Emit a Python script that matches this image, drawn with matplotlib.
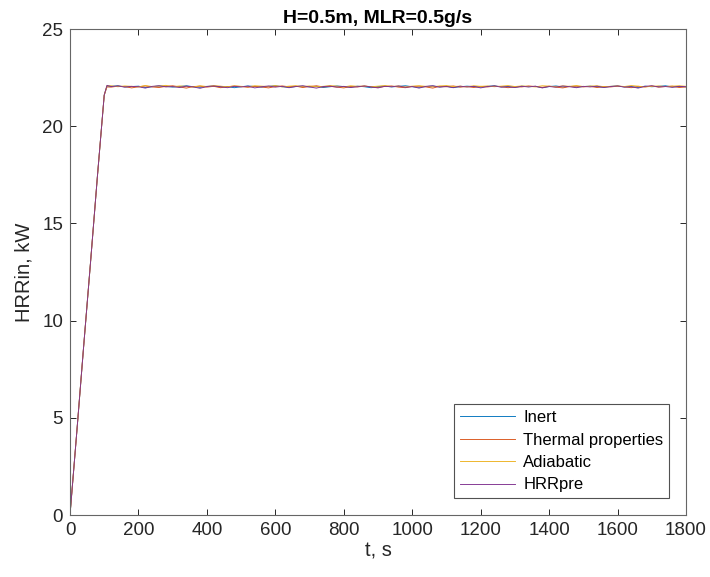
import matplotlib
matplotlib.use('Agg')
import matplotlib.pyplot as plt
import numpy as np

plt.rcParams['font.family'] = ['Liberation Sans', 'DejaVu Sans']

# time grid: ramp samples, then every 20 s on the plateau
t_ramp = [0, 20, 40, 60, 80, 100, 108]
t_plat = list(range(120, 1801, 20))
t = np.array(t_ramp + t_plat)

ramp_inert = [0, 4.3, 8.7, 13.0, 17.4, 21.6, 22.06]
ramp_therm = [0, 4.3, 8.7, 13.0, 17.4, 21.6, 22.02]
ramp_adiab = [0, 4.3, 8.7, 13.0, 17.4, 21.6, 22.08]
ramp_pre = [0, 4.3, 8.7, 13.0, 17.4, 21.6, 22.10]

inert = [22.05, 22.08, 22.02, 22.04, 22.06, 21.99, 22.03, 22.07, 22.05, 22.01,
         22.04, 22.08, 22.03, 22.00, 22.05, 22.06, 22.02, 22.04, 21.98, 22.03,
         22.07, 22.04, 22.01, 22.05, 22.08, 22.03, 22.00, 22.04, 22.06, 22.02,
         22.05, 21.99, 22.03, 22.07, 22.04, 22.01, 22.06, 22.03, 21.98, 22.04,
         22.06, 22.02, 22.05, 22.08, 22.03, 22.00, 22.04, 22.07, 22.02, 22.05,
         21.99, 22.03, 22.06, 22.04, 22.01, 22.05, 22.08, 22.02, 22.04, 22.00,
         22.06, 22.03, 22.05, 21.98, 22.04, 22.07, 22.02, 22.05, 22.01, 22.04,
         22.06, 22.03, 22.00, 22.05, 22.07, 22.02, 22.04, 21.99, 22.06, 22.03,
         22.05, 22.08, 22.02, 22.04, 22.03]
thermal = [22.01, 22.06, 22.04, 21.97, 22.03, 22.07, 22.02, 21.99, 22.05, 22.08,
           22.02, 21.96, 22.04, 22.06, 22.01, 22.05, 21.98, 22.03, 22.07, 22.04,
           22.00, 22.05, 22.02, 21.97, 22.04, 22.07, 22.03, 22.06, 21.99, 22.04,
           22.08, 22.02, 22.05, 22.01, 21.97, 22.04, 22.02, 22.06, 22.03, 21.99,
           22.05, 22.07, 22.01, 21.98, 22.04, 22.06, 22.02, 21.96, 22.05, 22.03,
           22.07, 22.01, 22.04, 21.99, 22.05, 22.02, 22.06, 22.04, 21.98, 22.03,
           22.02, 22.07, 22.04, 22.00, 22.06, 22.01, 21.97, 22.04, 22.06, 22.02,
           22.05, 21.99, 22.04, 22.02, 22.06, 22.03, 21.98, 22.05, 22.02, 22.07,
           22.01, 22.04, 22.06, 21.99, 22.02]
adiabatic = [22.08, 22.03, 22.07, 22.05, 22.02, 22.09, 22.04, 22.06, 22.10, 22.03,
             22.07, 22.05, 22.01, 22.08, 22.04, 22.09, 22.06, 22.02, 22.07, 22.05,
             22.03, 22.08, 22.06, 22.04, 22.09, 22.02, 22.06, 22.08, 22.04, 22.07,
             22.03, 22.05, 22.09, 22.06, 22.02, 22.08, 22.05, 22.07, 22.03, 22.06,
             22.09, 22.04, 22.07, 22.02, 22.06, 22.08, 22.05, 22.03, 22.07, 22.09,
             22.04, 22.06, 22.02, 22.08, 22.05, 22.07, 22.03, 22.06, 22.09, 22.04,
             22.07, 22.05, 22.02, 22.08, 22.06, 22.03, 22.07, 22.05, 22.09, 22.04,
             22.06, 22.08, 22.03, 22.05, 22.07, 22.04, 22.09, 22.06, 22.02, 22.05,
             22.07, 22.04, 22.06, 22.08, 22.05]
hrrpre = [22.04, 22.07, 22.01, 22.05, 22.03, 21.96, 22.05, 22.08, 22.02, 22.04,
          21.99, 22.06, 22.02, 21.95, 22.04, 22.07, 22.03, 21.98, 22.05, 22.02,
          22.06, 21.97, 22.03, 22.07, 22.01, 22.05, 21.98, 22.04, 22.08, 22.02,
          21.96, 22.04, 22.06, 22.01, 22.05, 21.99, 22.03, 22.07, 22.02, 21.97,
          22.05, 22.03, 22.07, 22.00, 22.04, 21.96, 22.05, 22.08, 22.01, 22.04,
          21.98, 22.06, 22.02, 22.05, 21.97, 22.04, 22.07, 22.01, 22.03, 21.99,
          22.05, 22.02, 22.06, 21.97, 22.04, 22.01, 22.07, 22.03, 21.98, 22.05,
          22.02, 22.06, 21.99, 22.04, 22.07, 22.01, 22.03, 21.96, 22.05, 22.08,
          22.02, 22.04, 22.00, 22.05, 22.03]

series = [
    ('Inert', ramp_inert + inert, '#0072BD'),
    ('Thermal properties', ramp_therm + thermal, '#D95319'),
    ('Adiabatic', ramp_adiab + adiabatic, '#EDB120'),
    ('HRRpre', ramp_pre + hrrpre, '#7E2F8E'),
]

fig = plt.figure(figsize=(7.1, 5.77), dpi=100)
ax = fig.add_axes([70/710, 62/577, 616/710, 486/577])

for name, vals, col in series:
    ax.plot(t, vals, color=col, lw=0.65, label=name)

ax.set_xlim(0, 1800)
ax.set_ylim(0, 25)
ax.set_xticks(np.arange(0, 1801, 200))
ax.set_yticks(np.arange(0, 26, 5))
ax.tick_params(direction='in', length=4, width=0.7, colors='#262626',
               labelsize=13.5, top=True, right=True, pad=5)
for sp in ax.spines.values():
    sp.set_color('#666666')
    sp.set_linewidth(0.8)

ax.set_xlabel('t, s', fontsize=14.5, color='#262626', labelpad=2)
ax.set_ylabel('HRRin, kW', fontsize=14.5, color='#262626', labelpad=6)
ax.set_title('H=0.5m, MLR=0.5g/s', fontsize=14, fontweight='bold', color='#000000', pad=4)

leg = ax.legend(loc='lower right', fontsize=12, handlelength=3.3, frameon=True,
                fancybox=False, edgecolor='#262626', borderaxespad=1.0,
                labelspacing=0.45, handletextpad=0.5, borderpad=0.35)
leg.get_frame().set_linewidth(0.8)

fig.savefig('out.png', dpi=100)
